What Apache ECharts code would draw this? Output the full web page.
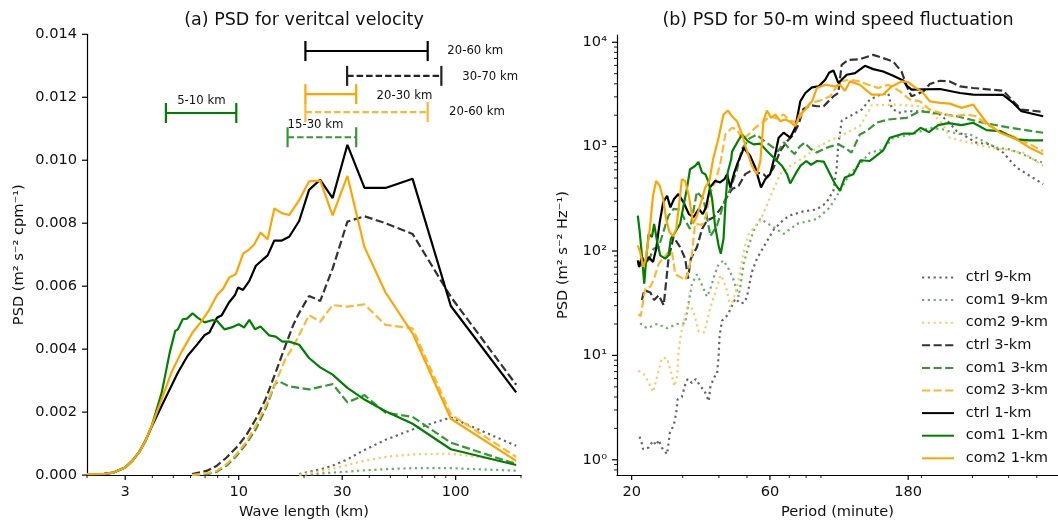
<!DOCTYPE html>
<html lang="en">
<head>
  <meta charset="UTF-8">
  <script src="https://cdn.jsdelivr.net/npm/echarts/dist/echarts.min.js"></script>
  <title>PSD panels</title>
  <style>
    html, body { margin: 0; padding: 0; background: #fff; }
    #chart { width: 1058px; height: 525px; }
  </style>
</head>
<body>
  <div id="chart"></div>
  <script>
    // legend names (same order as the reference legend)
    const names = ['ctrl 9-km', 'com1 9-km', 'com2 9-km', 'ctrl 3-km', 'com1 3-km', 'com2 3-km', 'ctrl 1-km', 'com1 1-km', 'com2 1-km'];

    // (a) wave length (km) vs PSD of vertical velocity
    const waveCtrl9 = [[19.0,0.00003],[21.1,0.0001],[23.75,0.00018],[27.1,0.0003],[31.7,0.0005],[38,0.0008],[47.5,0.00112],[63.3,0.00145],[95,0.00183],[190,0.00093]];
    const waveCom1_9 = [[19.0,0.0],[21.1,0.00002],[23.75,0.00005],[27.1,0.00008],[31.7,0.00011],[38,0.00015],[47.5,0.00019],[63.3,0.00022],[95,0.00022],[190,0.00014]];
    const waveCom2_9 = [[19.0,0.00001],[21.1,0.00006],[23.75,0.00012],[27.1,0.0002],[31.7,0.00032],[38,0.00046],[47.5,0.00058],[63.3,0.00066],[95,0.00068],[190,0.00042]];
    const waveCtrl3 = [[6.1,0.00003],[7.16,0.00014],[7.94,0.0003],[8.8,0.00056],[9.78,0.00088],[10.8,0.00125],[12.0,0.00178],[13.3,0.00241],[14.8,0.00326],[16.4,0.0041],[17.9,0.00479],[19.0,0.00515],[21.1,0.00569],[23.75,0.00553],[27.1,0.00656],[31.7,0.00805],[38,0.00822],[47.5,0.008],[63.3,0.00766],[95,0.00566],[190,0.00287]];
    const waveCom1_3 = [[6.1,0.0],[7.16,0.00003],[7.94,0.00011],[8.8,0.0003],[9.78,0.00061],[10.8,0.00098],[12.0,0.00146],[13.3,0.0021],[14.7,0.00289],[15.3,0.00298],[17.1,0.00282],[19.0,0.00277],[21.1,0.00272],[23.75,0.0028],[27.1,0.00289],[31.7,0.00231],[38,0.00254],[47.5,0.00198],[63.3,0.00185],[95,0.00103],[190,0.00035]];
    const waveCom2_3 = [[6.1,0.0],[7.16,0.00006],[7.94,0.00014],[8.8,0.00035],[9.78,0.00067],[10.8,0.00104],[12.0,0.00157],[13.3,0.0022],[14.8,0.00294],[16.4,0.00368],[17.9,0.0041],[19.0,0.00445],[21.1,0.00508],[23.75,0.00487],[27.1,0.0054],[31.7,0.00535],[38,0.00542],[47.5,0.00477],[63.3,0.00466],[95,0.00193],[190,0.00058]];
    const waveCtrl1 = [[2.0,0.00003],[2.4,0.00004],[2.65,0.00008],[3.0,0.00024],[3.24,0.00046],[3.47,0.00072],[3.72,0.00109],[3.98,0.00155],[4.27,0.00199],[4.73,0.00262],[5.25,0.00326],[5.82,0.00379],[6.46,0.00416],[6.97,0.00445],[7.33,0.00453],[7.94,0.005],[8.36,0.00508],[9.02,0.00548],[9.6,0.00571],[9.94,0.00596],[10.47,0.00588],[11.2,0.00617],[12.0,0.00665],[12.7,0.0068],[13.6,0.00698],[14.6,0.00745],[15.8,0.00745],[17.1,0.00757],[19.0,0.00807],[21.1,0.00906],[23.75,0.00938],[27.1,0.0088],[31.7,0.01049],[38,0.00912],[47.5,0.00912],[63.3,0.00941],[95,0.00537],[190,0.00263]];
    const waveCom1_1 = [[2.0,0.00003],[2.4,0.00004],[2.65,0.00008],[3.0,0.00024],[3.24,0.00046],[3.47,0.00072],[3.72,0.00109],[3.98,0.00157],[4.42,0.00262],[4.81,0.00389],[5.1,0.00458],[5.25,0.00463],[5.52,0.00495],[5.78,0.00497],[6.13,0.00514],[6.46,0.005],[6.97,0.00485],[7.54,0.00492],[7.94,0.0049],[8.6,0.00463],[9.27,0.00469],[10.0,0.00479],[10.6,0.00469],[11.2,0.00493],[11.9,0.00463],[12.6,0.00472],[13.8,0.00444],[14.8,0.0044],[15.9,0.00424],[17.1,0.00424],[19.0,0.00414],[21.1,0.00372],[23.75,0.00342],[27.1,0.00319],[31.7,0.00277],[38,0.0024],[47.5,0.00203],[63.3,0.00163],[95,0.00082],[190,0.00032]];
    const waveCom2_1 = [[2.0,0.00003],[2.4,0.00004],[2.65,0.00008],[3.0,0.00024],[3.24,0.00046],[3.47,0.00072],[3.72,0.00109],[3.98,0.00157],[4.42,0.00241],[4.9,0.00326],[5.43,0.00389],[6.13,0.00453],[6.68,0.00485],[7.28,0.00522],[7.94,0.00571],[8.5,0.00593],[9.05,0.00628],[9.7,0.00638],[10.5,0.00704],[11.2,0.00717],[11.8,0.00733],[12.6,0.0077],[13.6,0.00749],[14.6,0.00847],[15.8,0.00832],[17.1,0.00826],[19.0,0.00873],[21.1,0.00933],[23.75,0.00935],[27.1,0.00825],[31.7,0.0095],[38,0.00724],[47.5,0.0058],[63.3,0.0045],[95,0.00179],[190,0.00045]];

    // scale ranges marked above the curves in (a)
    const spanLabels = ['20-60 km', '30-70 km', '20-30 km', '20-60 km', '5-10 km', '15-30 km'];
    const spanStart = [20.3, 31.6, 20.3, 20.3, 4.62, 16.8];
    const spanEnd = [74.3, 85.9, 34.8, 74.3, 9.75, 34.8];
    const spanLevel = [0.01347, 0.01268, 0.0121, 0.01153, 0.0115, 0.01073];
    const spanTextX = [91.5, 107.3, 43.2, 93.2, 6.73, 16.8];
    const spanTextY = [0.01347, 0.01264, 0.01204, 0.01153, 0.01188, 0.01111];

    // (b) period (minute) vs PSD of 50-m wind speed
    const perCtrl9 = [[21.3,1.67],[21.7,1.43],[21.9,1.26],[22.9,1.31],[23.7,1.52],[24.3,1.38],[24.8,1.55],[25.4,1.31],[26.5,1.13],[27.1,1.82],[28.0,2.18],[28.5,2.82],[28.8,3.78],[29.8,4.0],[30.6,5.25],[31.2,5.95],[32.3,5.45],[33.3,5.95],[34.5,5.07],[35.6,4.64],[36.4,4.0],[36.9,3.65],[37.4,5.07],[38.7,6.3],[39.4,6.5],[39.9,9.8],[40.2,15.2],[41.0,21.5],[42.9,24.4],[45.6,35.1],[47.4,31.5],[48.9,32],[50.0,36.5],[52.0,63],[54.1,84.5],[57.0,109],[61.8,160],[66.9,200],[70.5,220],[78.3,240],[87,250],[94,290],[99.4,380],[102,630],[103.3,1047],[106.2,1778],[113,1950],[124.5,2265],[132.7,2818],[143.9,3148],[153.8,3266],[157.8,2350],[166.3,2109],[177.8,2183],[208.4,2183],[231.7,2032],[247.7,1730],[264.8,1409],[309.7,1091],[345.1,1052],[382.8,877],[425.6,631],[473.2,525],[526,438]];
    const perCom1_9 = [[21.4,20.3],[22.6,18.2],[24.5,20],[26.5,18.2],[28.7,20],[30.6,20.3],[31.5,32.7],[32.3,48.8],[33.6,59.8],[35.0,47],[36.4,36.5],[37.4,43.8],[38.8,60.8],[39.9,74.5],[41.5,81.3],[43.5,65.3],[45.0,52.5],[46.8,36.5],[47.6,48.8],[48.7,75.7],[50.7,113],[52.7,157],[55.6,203],[61.8,169],[66.9,146],[74.4,182],[87.2,203],[96.6,262],[104.7,378],[113,545],[122.6,678],[132.8,877],[147.6,942],[159.8,1218],[173,1260],[192.3,1357],[213.8,1517],[237.7,1462],[264.7,1330],[294,1309],[326.6,1130],[363.8,977],[403.6,942],[448.7,845],[500,729],[526,705]];
    const perCom2_9 = [[21.1,7.13],[22.0,6.64],[22.9,5.53],[23.7,4.44],[24.5,6.3],[25.4,9.4],[26.5,9.4],[27.3,7.04],[28.1,5.07],[28.7,6.3],[29.0,10.5],[29.6,16.3],[30.6,24.4],[31.5,31.5],[32.7,26.2],[34.1,16.9],[35.6,16.6],[36.4,21.1],[37.4,29.3],[38.8,39.2],[40.5,58.6],[41.5,52.5],[42.6,42.2],[43.8,29.3],[45.0,35.1],[46.8,52.5],[48.1,81.3],[49.3,113],[50.7,146],[55.6,196],[60.1,327],[65.1,545],[70.5,653],[78.3,785],[87.2,977],[96.8,1148],[104.7,1250],[113.3,1409],[122.6,1571],[129.4,2032],[134.6,2489],[164.2,2529],[197.5,2438],[213.8,2183],[237.7,1630],[250.6,1218],[278.8,1130],[326.6,1014],[382.8,942],[448.7,877],[486,757],[526,653]];
    const perCtrl3 = [[21.7,33.9],[22.1,42.2],[23.2,40.1],[23.9,33.9],[24.8,37.8],[25.8,30.3],[26.3,50.7],[26.8,84.5],[27.9,136],[29.4,109],[30.6,84.5],[31.3,54.5],[32.0,84.5],[33.6,109],[35.0,163],[36.4,196],[38.4,211],[40.5,253],[42.6,327],[44.4,392],[46.8,422],[49.3,545],[52.7,608],[54.1,565],[57.0,545],[58.6,507],[61.8,631],[65.1,908],[68.9,1130],[72.4,1309],[75.3,1630],[78.3,2300],[83,2500],[87.2,2438],[92,2438],[96.8,2818],[99.4,3034],[103.3,3266],[106.1,6081],[111.9,6776],[122.6,6887],[136.4,7568],[147.6,7044],[159.8,6531],[170.7,5248],[179.9,3516],[184.9,3034],[203.4,3388],[213.8,3981],[231.7,4276],[250.6,4217],[271.5,3776],[301.7,3648],[382.8,3436],[414.6,2718],[442.9,2265],[526,2155]];
    const perCom1_3 = [[21.1,70.5],[22.0,75.7],[22.9,81.3],[23.8,105],[24.8,109],[25.8,157],[26.8,218],[27.9,253],[29.4,249],[30.6,196],[31.8,163],[33.6,370],[35.4,315],[37.4,139],[39.4,175],[41.5,282],[43.8,392],[46.2,600],[48,950],[51,1200],[54,1300],[57,1150],[61,1000],[64,900],[67,1100],[70,950],[73,850],[76,1000],[79,1090],[83,950],[87,880],[92,950],[96.6,1000],[103.3,1052],[108.9,977],[114.7,877],[122.6,1309],[129.4,1409],[139.9,1694],[153.8,1820],[177.8,1888],[197.5,2183],[219.6,2109],[264.7,1954],[326.6,1694],[403.6,1517],[526,1359]];
    const perCom2_3 = [[21.1,24.9],[21.5,23.8],[21.9,32.7],[22.3,43.8],[23.2,45.4],[23.8,52.5],[24.8,75.7],[26.5,94.2],[27.5,101],[28.3,59.8],[29.4,56.5],[30.6,52.5],[31.5,65.3],[32.3,94.2],[33.1,182],[35.0,178],[36.1,218],[37.4,365],[38.8,454],[40.5,700],[42.1,1309],[44.4,1517],[46.2,1462],[48.1,1175],[50.7,1309],[53.4,1517],[57.0,1730],[60.1,1954],[63.4,1862],[66.9,2032],[70.5,1754],[74.3,1730],[78.4,2183],[82.6,2624],[89.5,2761],[96.8,3034],[104.7,4217],[113.3,4375],[122.6,4217],[130.9,3917],[141.8,3648],[153.8,3917],[168.7,3388],[182.7,2818],[197.5,2718],[213.8,2265],[231.7,2109],[257.6,1954],[286.4,2032],[309.7,1954],[335.5,1630],[373.3,1409],[425.6,1218],[500,977],[526,908]];
    const perCtrl1 = [[21.0,81.3],[21.2,70.5],[21.7,87.7],[22.3,75.7],[22.9,87.7],[23.7,78.5],[24.3,105],[25.0,189],[25.7,293],[26.5,339],[27.2,262],[28.0,315],[29.0,351],[30.2,293],[31.5,226],[32.7,211],[34.1,253],[35.2,226],[36.1,262],[37.3,407],[38.8,470],[40.4,454],[41.8,488],[42.7,545],[43.8,407],[45.2,565],[46.5,705],[48.1,877],[48.7,977],[51.3,813],[53.4,631],[55.9,407],[57.8,488],[60.1,545],[62.6,845],[64.3,1218],[66.9,1359],[70.5,1218],[73.4,1517],[76.4,2718],[79.5,3266],[83.8,3698],[88.3,3776],[93.1,4375],[96,5100],[99.4,5370],[103.3,4074],[106.1,4375],[110.5,4886],[118,5070],[127.7,5943],[136.4,5530],[147.6,5248],[159.8,4775],[173,4305],[177.8,3837],[184.9,3516],[231.7,3565],[271.5,3266],[301.7,3148],[382.8,3126],[414.6,2624],[442.9,2183],[526,1954]];
    const perCom1_1 = [[21.0,218],[21.3,157],[21.7,90.8],[22.1,48.8],[22.5,90.8],[22.9,146],[23.5,136],[23.9,182],[24.5,122],[25.1,90.8],[26.1,84.5],[26.8,90.8],[27.3,131],[28.3,152],[29.4,182],[30.2,272],[31.0,392],[31.8,608],[33.1,653],[34.0,713],[35.0,565],[35.9,545],[36.9,454],[37.9,315],[38.8,175],[39.9,113],[40.6,94.2],[41.5,131],[42.1,272],[42.9,565],[44.1,757],[44.4,896],[46.4,1115],[48.1,1309],[50.3,1130],[52.7,1052],[55.6,1069],[58.6,908],[62.6,757],[66.1,653],[68.7,545],[70.5,444],[73.4,545],[76.4,653],[80.1,729],[83.2,668],[87.2,729],[92,720],[96.8,545],[100.7,438],[104.7,378],[108.9,507],[116.4,545],[123.3,741],[132.8,729],[147.6,922],[155.5,1218],[173,1330],[187.5,1330],[198.7,1517],[212.2,1377],[228.6,1607],[247.7,1679],[275.2,1607],[301.7,1694],[335.5,1439],[373.3,1409],[425.6,1175],[473.2,1148],[526,1148]];
    const perCom2_1 = [[21.0,113],[21.4,97.8],[21.9,70.5],[22.4,84.5],[23.1,163],[23.7,339],[24.3,470],[25.0,422],[25.7,315],[26.3,203],[27.0,152],[27.8,139],[28.5,163],[29.3,315],[29.8,488],[30.6,470],[31.5,339],[32.6,182],[33.6,218],[34.7,293],[35.9,407],[37.1,470],[38.2,757],[39.9,1218],[41.5,2032],[43.0,2218],[44.4,1954],[46.2,1754],[48.1,1309],[50.0,908],[52.0,653],[54.1,545],[55.6,729],[57.0,1754],[58.6,2218],[60.5,1888],[62.6,2032],[65.1,1754],[67.8,1820],[70.5,1730],[73.4,1571],[76.0,2032],[79.5,2265],[83.8,2718],[87.2,3648],[93.1,3917],[100.7,3776],[104.7,3917],[108.9,3436],[113.3,4217],[122.6,3917],[134.6,3148],[147.6,3148],[157.8,3776],[170.7,4217],[179.9,4159],[190,3698],[200.5,3388],[213.8,2718],[231.7,2624],[250.6,2582],[275.2,2350],[301.7,2529],[335.5,1694],[373.3,1359],[425.6,1175],[473.2,977],[526,845]];

    // tick values
    const waveTicks = [3, 10, 30, 100];
    const waveMinor = [2, 4, 5, 6, 7, 8, 9, 20, 40, 50, 60, 70, 80, 90, 200];
    const leftPsdTicks = [0, 0.002, 0.004, 0.006, 0.008, 0.010, 0.012, 0.014];
    const periodTicks = [20, 60, 180];
    const periodMinor = [30, 40, 50, 70, 80, 90, 200, 300, 400, 500];
    const psdTicks = [1, 10, 100, 1000, 10000];
    const psdMinor = [0.8, 0.9, 2, 3, 4, 5, 6, 7, 8, 9, 20, 30, 40, 50, 60, 70, 80, 90,
      200, 300, 400, 500, 600, 700, 800, 900, 2000, 3000, 4000, 5000, 6000, 7000, 8000, 9000];

    const FONT = 'DejaVu Sans';
    const INK = '#111';
    const DOT = [2.2, 3.6];
    const DASH = [8.1, 3.5];
    const sup = { '0': '\u2070', '1': '\u00b9', '2': '\u00b2', '3': '\u00b3', '4': '\u2074' };

    // axis ranges
    const waveRange = [2, 200];
    const leftPsdRange = [0, 0.014];
    const periodRange = [17.8, 592];
    const psdRange = [0.7136, 11736];

    // style per run (color, dash); 9-km faded, 3-km slightly faded
    const styles = [
      ['#666666', DOT], ['#66b366', DOT], ['#ffc966', DOT],
      ['#333333', DASH], ['#339933', DASH], ['#ffb733', DASH],
      ['#000000', 'solid'], ['#008000', 'solid'], ['#ffa500', 'solid']
    ];
    const spanStyle = [
      { color: '#000000', dash: null, align: 'left' },
      { color: '#222222', dash: [6.5, 3], align: 'left' },
      { color: '#ffa500', dash: null, align: 'left' },
      { color: '#ffb733', dash: [6.5, 3], align: 'left' },
      { color: '#008000', dash: null, align: 'center' },
      { color: '#339933', dash: [6.5, 3], align: 'left' }
    ];

    const waveSets = [waveCtrl9, waveCom1_9, waveCom2_9, waveCtrl3, waveCom1_3, waveCom2_3, waveCtrl1, waveCom1_1, waveCom2_1];
    const perSets = [perCtrl9, perCom1_9, perCom2_9, perCtrl3, perCom1_3, perCom2_3, perCtrl1, perCom1_1, perCom2_1];

    function lineSeries(i, data, xi, yi) {
      return {
        type: 'line', name: names[i], data: data,
        xAxisIndex: xi, yAxisIndex: yi,
        symbol: 'none', showSymbol: false, animation: false, silent: true,
        lineStyle: { color: styles[i][0], width: 2.2, type: styles[i][1] },
        itemStyle: { color: styles[i][0] },
        z: 2 + i
      };
    }

    // tick marks drawn through the axes' own coordinate mapping
    // item: [x, y, length, vertical(1)/horizontal(0)]
    function tickSeries(idx, items) {
      return {
        type: 'custom', xAxisIndex: idx, yAxisIndex: idx, silent: true, animation: false,
        clip: false, z: 30, data: items,
        encode: { x: 0, y: 1 },
        renderItem: function (params, api) {
          const p = api.coord([api.value(0), api.value(1)]);
          const len = api.value(2);
          const onX = api.value(3) === 1;
          return {
            type: 'line',
            shape: onX ? { x1: p[0], y1: p[1], x2: p[0], y2: p[1] + len }
                       : { x1: p[0], y1: p[1], x2: p[0] - len, y2: p[1] },
            style: { stroke: '#000', lineWidth: len > 4 ? 1.2 : 0.9 }
          };
        }
      };
    }
    const MAJOR = 5, MINOR = 3;
    const ticksA = [].concat(
      waveTicks.map(v => [v, leftPsdRange[0], MAJOR, 1]),
      waveMinor.map(v => [v, leftPsdRange[0], MINOR, 1]),
      leftPsdTicks.map(v => [waveRange[0], v, MAJOR, 0])
    );
    const ticksB = [].concat(
      periodTicks.map(v => [v, psdRange[0], MAJOR, 1]),
      periodMinor.map(v => [v, psdRange[0], MINOR, 1]),
      psdTicks.map(v => [periodRange[0], v, MAJOR, 0]),
      psdMinor.map(v => [periodRange[0], v, MINOR, 0])
    );

    const axisLine = { show: true, lineStyle: { color: '#000', width: 1.2 } };
    const labelStyle = { color: INK, fontSize: 14.6, fontFamily: FONT, margin: 10 };
    const nameStyle = { color: INK, fontSize: 14.6, fontFamily: FONT };

    const spanData = spanLabels.map((_, i) => [spanStart[i], spanEnd[i], spanLevel[i], spanTextX[i], spanTextY[i]]);

    const series = [];
    waveSets.forEach((d, i) => series.push(lineSeries(i, d, 0, 0)));
    perSets.forEach((d, i) => series.push(lineSeries(i, d, 1, 1)));
    series.push(tickSeries(0, ticksA), tickSeries(1, ticksB));
    series.push({
      type: 'custom', xAxisIndex: 0, yAxisIndex: 0, silent: true, animation: false,
      encode: { x: [0, 1, 3], y: [2, 4] },
      data: spanData, z: 20,
      renderItem: function (params, api) {
        const i = params.dataIndex;
        const st = spanStyle[i];
        const a = api.coord([api.value(0), api.value(2)]);
        const b = api.coord([api.value(1), api.value(2)]);
        const t = api.coord([api.value(3), api.value(4)]);
        const cap = 10;
        return {
          type: 'group',
          children: [
            { type: 'line', shape: { x1: a[0], y1: a[1], x2: b[0], y2: b[1] },
              style: { stroke: st.color, lineWidth: 2.2, lineDash: st.dash } },
            { type: 'line', shape: { x1: a[0], y1: a[1] - cap, x2: a[0], y2: a[1] + cap },
              style: { stroke: st.color, lineWidth: 2.2 } },
            { type: 'line', shape: { x1: b[0], y1: b[1] - cap, x2: b[0], y2: b[1] + cap },
              style: { stroke: st.color, lineWidth: 2.2 } },
            { type: 'text', x: t[0], y: t[1],
              style: { text: spanLabels[i], fill: INK, fontSize: 11.7, fontFamily: FONT,
                       align: st.align, verticalAlign: 'middle' } }
          ]
        };
      }
    });

    const chart = echarts.init(document.getElementById('chart'), null, { renderer: 'canvas' });

    const option = {
      backgroundColor: '#fff',
      animation: false,
      textStyle: { fontFamily: FONT },
      graphic: [
        { type: 'text', x: 304, y: 20, style: { text: '(a) PSD for veritcal velocity', fill: INK,
          fontSize: 17.5, fontFamily: FONT, align: 'center', verticalAlign: 'middle' } },
        { type: 'text', x: 838, y: 20, style: { text: '(b) PSD for 50-m wind speed fluctuation', fill: INK,
          fontSize: 17.5, fontFamily: FONT, align: 'center', verticalAlign: 'middle' } }
      ],
      grid: [
        { left: 87, top: 34.3, width: 434, height: 443.4 },
        { left: 617, top: 35, width: 441, height: 442.7 }
      ],
      legend: {
        data: names, orient: 'vertical', left: 921, top: 270, padding: 0,
        itemWidth: 32, itemHeight: 14.6, itemGap: 7.6,
        itemStyle: { opacity: 0 },
        textStyle: { color: INK, fontSize: 14.6, fontFamily: FONT, padding: [0, 0, 0, 6.7] },
        selectedMode: false
      },
      xAxis: [
        {
          type: 'log', gridIndex: 0, min: waveRange[0], max: waveRange[1], position: 'bottom',
          name: 'Wave length (km)', nameLocation: 'middle', nameGap: 27, nameTextStyle: nameStyle,
          axisLine: axisLine, splitLine: { show: false }, axisTick: { show: false },
          axisLabel: Object.assign({ customValues: waveTicks, formatter: v => String(Math.round(v)) }, labelStyle)
        },
        {
          type: 'log', gridIndex: 1, min: periodRange[0], max: periodRange[1], position: 'bottom',
          name: 'Period (minute)', nameLocation: 'middle', nameGap: 27, nameTextStyle: nameStyle,
          axisLine: axisLine, splitLine: { show: false }, axisTick: { show: false },
          axisLabel: Object.assign({ customValues: periodTicks, formatter: v => String(Math.round(v)) }, labelStyle)
        }
      ],
      yAxis: [
        {
          type: 'value', gridIndex: 0, min: leftPsdRange[0], max: leftPsdRange[1], interval: 0.002, position: 'left',
          name: 'PSD (m\u00b2 s\u207b\u00b2 cpm\u207b\u00b9)', nameLocation: 'middle', nameGap: 60, nameTextStyle: nameStyle,
          axisLine: axisLine, splitLine: { show: false }, axisTick: { show: false },
          axisLabel: Object.assign({ formatter: v => v.toFixed(3) }, labelStyle)
        },
        {
          type: 'log', gridIndex: 1, min: psdRange[0], max: psdRange[1], position: 'left',
          name: 'PSD (m\u00b2 s\u207b\u00b2 Hz\u207b\u00b9)', nameLocation: 'middle', nameGap: 46, nameTextStyle: nameStyle,
          axisLine: axisLine, splitLine: { show: false }, axisTick: { show: false },
          axisLabel: Object.assign({
            customValues: psdTicks,
            formatter: v => '10' + sup[String(Math.round(Math.log10(v)))]
          }, labelStyle)
        }
      ],
      series: series
    };

    chart.setOption(option);
  </script>
</body>
</html>
